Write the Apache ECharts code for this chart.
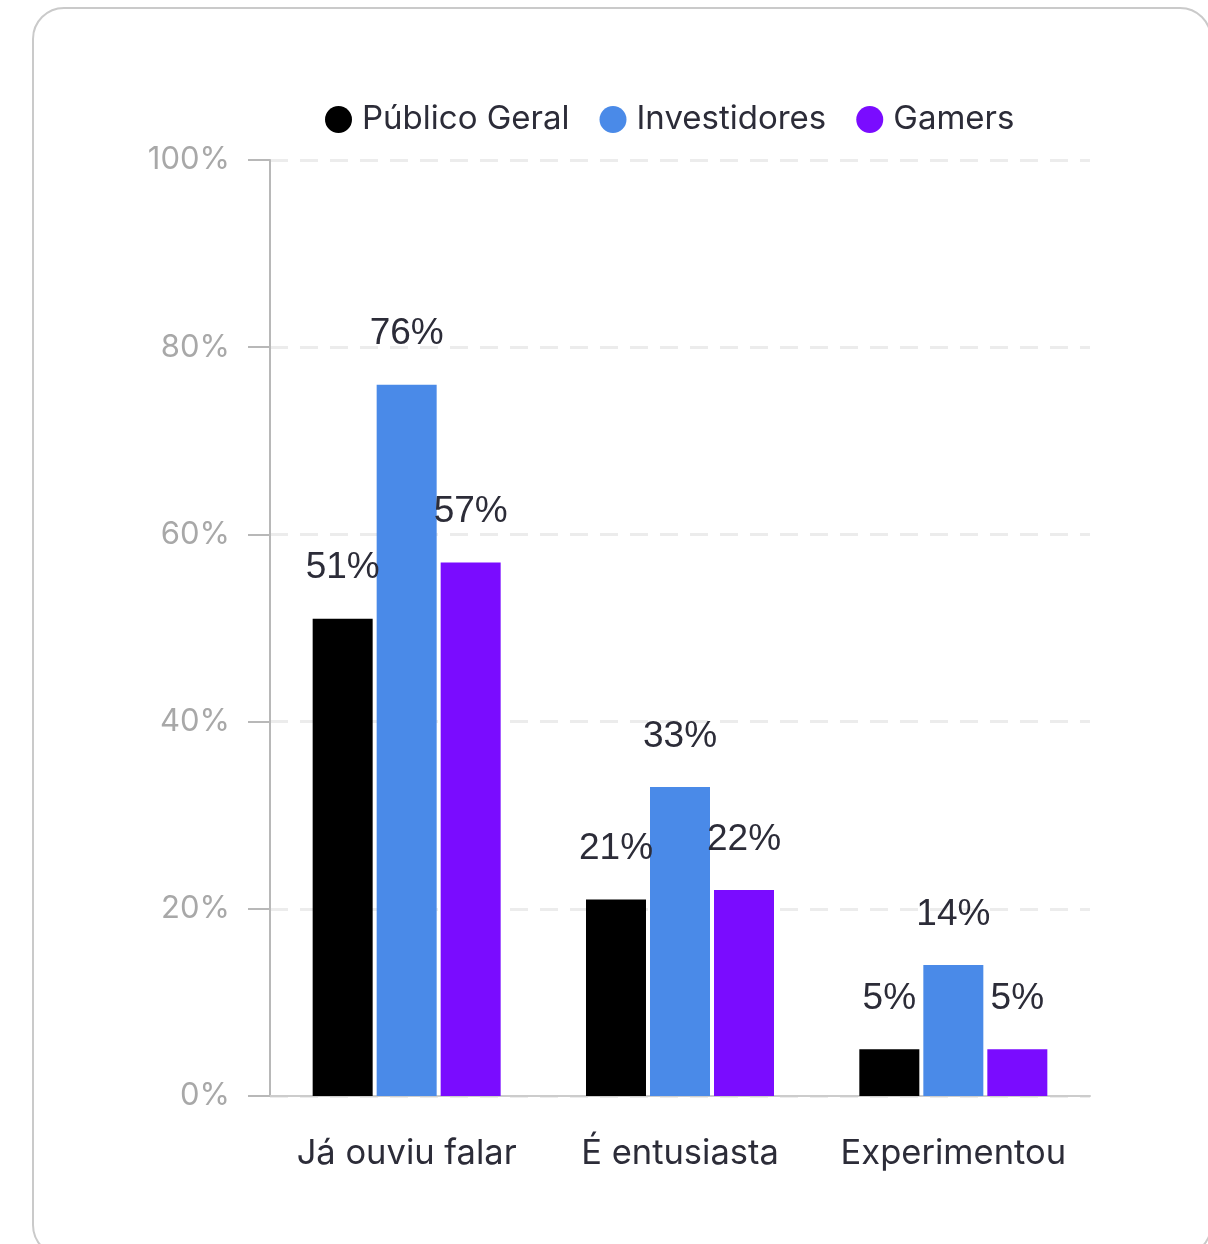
<!DOCTYPE html>
<html>
<head>
<meta charset="utf-8">
<script src="https://cdn.jsdelivr.net/npm/echarts@6/dist/echarts.min.js"></script>
<style>
  html, body { margin: 0; padding: 0; background: #ffffff; }
  #card {
    position: absolute; left: 32px; top: 7px; width: 1180px; height: 1250px;
    border: 2px solid #cacaca; border-radius: 32px; box-sizing: border-box; background: #fff;
  }
  #chart { position: absolute; left: 0; top: 0; width: 1208px; height: 1244px; }
</style>
</head>
<body>
<div id="card"></div>
<div id="chart"></div>
<script>
// Awareness of the topic across three audiences (share of respondents, %)
const categories = ['Já ouviu falar', 'É entusiasta', 'Experimentou'];
const seriesNames = ['Público Geral', 'Investidores', 'Gamers'];
const publicoGeral = [51, 21, 5];
const investidores = [76, 33, 14];
const gamers = [57, 22, 5];
const seriesColors = ['#000000', '#4a8ae8', '#7a0cff'];

const textDark = '#2c2c38';
const uiFont = 'Inter, "Noto Sans", sans-serif';

function barSeries(name, values, color) {
  return {
    name: name,
    type: 'bar',
    data: values,
    barWidth: 60,
    barGap: '6.67%',
    itemStyle: { color: color },
    label: {
      show: true,
      position: 'top',
      distance: 32,
      formatter: '{c}%',
      color: textDark,
      fontFamily: '"Liberation Sans", Arial, sans-serif',
      fontSize: 37,
      lineHeight: 37
    }
  };
}

const chart = echarts.init(document.getElementById('chart'), null, { renderer: 'canvas' });
chart.setOption({
  backgroundColor: 'transparent',
  animation: false,
  legend: {
    data: seriesNames,
    left: 320,
    top: 98,
    icon: 'circle',
    itemWidth: 27,
    itemHeight: 27,
    itemGap: 30,
    textStyle: { color: textDark, fontFamily: uiFont, fontSize: 33, padding: [0, 0, 0, 5] }
  },
  grid: { left: 270, right: 118, top: 160, bottom: 148, containLabel: false },
  xAxis: {
    type: 'category',
    data: categories,
    axisLine: { show: true, lineStyle: { color: '#cccccc', width: 2 } },
    axisTick: { show: false },
    axisLabel: { interval: 0, color: textDark, fontFamily: uiFont, fontSize: 34.5, margin: 40 }
  },
  yAxis: {
    type: 'value',
    min: 0,
    max: 100,
    interval: 20,
    axisLine: { show: true, lineStyle: { color: '#b8b8b8', width: 2 } },
    axisTick: { show: true, length: 22, lineStyle: { color: '#b8b8b8', width: 2 } },
    axisLabel: {
      formatter: '{value}%', color: '#a8a8a8', fontFamily: uiFont, fontSize: 31,
      margin: 40, lineHeight: 31, padding: [6, 0, 0, 0]
    },
    splitLine: { show: true, lineStyle: { color: '#ececec', width: 3, type: [18, 12] } }
  },
  series: [
    barSeries(seriesNames[0], publicoGeral, seriesColors[0]),
    barSeries(seriesNames[1], investidores, seriesColors[1]),
    barSeries(seriesNames[2], gamers, seriesColors[2])
  ]
});
</script>
</body>
</html>
